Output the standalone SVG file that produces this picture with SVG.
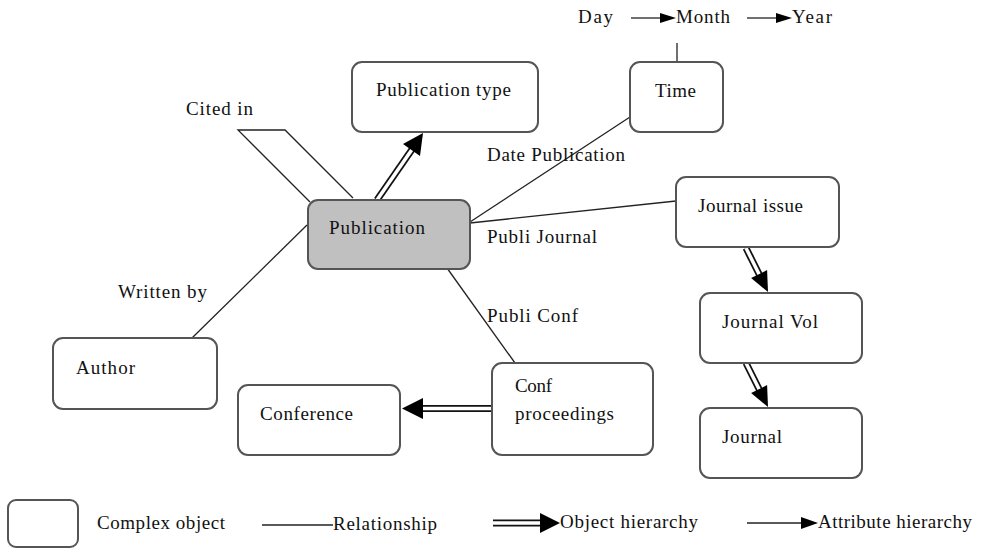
<svg xmlns="http://www.w3.org/2000/svg" width="982" height="550" viewBox="0 0 982 550">
<style>
.box{fill:#fff;stroke:#555;stroke-width:2}
.pub{fill:#c0c0c0;stroke:#555;stroke-width:2}
.t{font-family:"Liberation Serif","Times New Roman",serif;font-size:19px;fill:#111}
.rel{fill:none;stroke:#222;stroke-width:1.3}
.dblo{fill:none;stroke:#111;stroke-width:7}
.dbli{fill:none;stroke:#fff;stroke-width:3.5}
.head{fill:#000}
</style>
<rect width="982" height="550" fill="#fff"/>
<g id="connectors">
  <polyline class="rel" points="310,202 238,130 285,130 353,198"/>
  <line class="rel" x1="307" y1="225" x2="192" y2="338"/>
  <line class="rel" x1="470" y1="222" x2="630" y2="117"/>
  <line class="rel" x1="470" y1="223" x2="676" y2="201"/>
  <line class="rel" x1="447" y1="268" x2="515" y2="363"/>
  <line class="rel" x1="677" y1="43" x2="677" y2="62"/>
  <line class="rel" x1="631" y1="18" x2="662" y2="18"/>
  <polygon class="head" points="660,13 676,18 660,23"/>
  <line class="rel" x1="747" y1="18" x2="778" y2="18"/>
  <polygon class="head" points="776,13 792,18 776,23"/>
  <g id="pub-to-pubtype">
    <line class="dblo" x1="377" y1="200" x2="413" y2="148"/>
    <line class="dbli" x1="377" y1="200" x2="413" y2="148"/>
    <polygon class="head" points="423,133 420,156 403,144"/>
  </g>
  <g id="jissue-to-jvol">
    <line class="dblo" x1="746" y1="248" x2="760" y2="276"/>
    <line class="dbli" x1="746" y1="248" x2="760" y2="276"/>
    <polygon class="head" points="768,292 767.1,270.1 751.1,278.1"/>
  </g>
  <g id="jvol-to-journal">
    <line class="dblo" x1="746" y1="363" x2="760" y2="391"/>
    <line class="dbli" x1="746" y1="363" x2="760" y2="391"/>
    <polygon class="head" points="768,407 767.1,385.1 751.1,393.1"/>
  </g>
  <g id="confproc-to-conference">
    <line class="dblo" x1="492" y1="408.5" x2="421" y2="408.5"/>
    <line class="dbli" x1="492" y1="408.5" x2="421" y2="408.5"/>
    <polygon class="head" points="402,408.5 423,398 423,419"/>
  </g>
</g>
<text class="t" x="186" y="115" textLength="67">Cited in</text>
<text class="t" x="118" y="298" textLength="89">Written by</text>
<text class="t" x="487" y="161" textLength="138">Date Publication</text>
<text class="t" x="487" y="243" textLength="110">Publi Journal</text>
<text class="t" x="487" y="322" textLength="91">Publi Conf</text>
<text class="t" x="578" y="23" textLength="35">Day</text>
<text class="t" x="676" y="23" textLength="54">Month</text>
<text class="t" x="792" y="23" textLength="40">Year</text>
<g id="pubtype">
  <rect class="box" x="352" y="62" width="186" height="70" rx="10"/>
  <text class="t" x="376" y="96" textLength="135">Publication type</text>
</g>
<g id="time">
  <rect class="box" x="630" y="62" width="93" height="70" rx="10"/>
  <text class="t" x="655" y="97" textLength="41">Time</text>
</g>
<g id="publication">
  <rect class="pub" x="308" y="200" width="162" height="69" rx="10"/>
  <text class="t" x="329" y="234" textLength="96">Publication</text>
</g>
<g id="journal-issue">
  <rect class="box" x="676" y="177" width="163" height="70" rx="10"/>
  <text class="t" x="698" y="212" textLength="105">Journal issue</text>
</g>
<g id="journal-vol">
  <rect class="box" x="700" y="293" width="162" height="70" rx="10"/>
  <text class="t" x="722" y="328" textLength="96">Journal Vol</text>
</g>
<g id="journal">
  <rect class="box" x="700" y="408" width="162" height="70" rx="10"/>
  <text class="t" x="722" y="443" textLength="60">Journal</text>
</g>
<g id="conf-proceedings">
  <rect class="box" x="492" y="363" width="161" height="92" rx="10"/>
  <text class="t" x="515" y="392" textLength="37">Conf</text>
  <text class="t" x="515" y="420" textLength="99">proceedings</text>
</g>
<g id="conference">
  <rect class="box" x="238" y="385" width="162" height="70" rx="10"/>
  <text class="t" x="260" y="420" textLength="93">Conference</text>
</g>
<g id="author">
  <rect class="box" x="53" y="338" width="164" height="71" rx="10"/>
  <text class="t" x="76" y="374" textLength="59">Author</text>
</g>
<g id="legend">
  <rect class="box" x="8" y="500" width="70" height="47" rx="8"/>
  <text class="t" x="97" y="529" textLength="128">Complex object</text>
  <line class="rel" x1="262" y1="525" x2="333" y2="525"/>
  <text class="t" x="333" y="530" textLength="104">Relationship</text>
  <line class="dblo" x1="493" y1="523" x2="543" y2="523"/>
  <line class="dbli" x1="493" y1="523" x2="543" y2="523"/>
  <polygon class="head" points="540,513 560,523 540,533"/>
  <text class="t" x="560" y="528" textLength="138">Object hierarchy</text>
  <line class="rel" x1="747" y1="523" x2="803" y2="523"/>
  <polygon class="head" points="801,517 818,523 801,529"/>
  <text class="t" x="818" y="528" textLength="154">Attribute hierarchy</text>
</g>
</svg>
